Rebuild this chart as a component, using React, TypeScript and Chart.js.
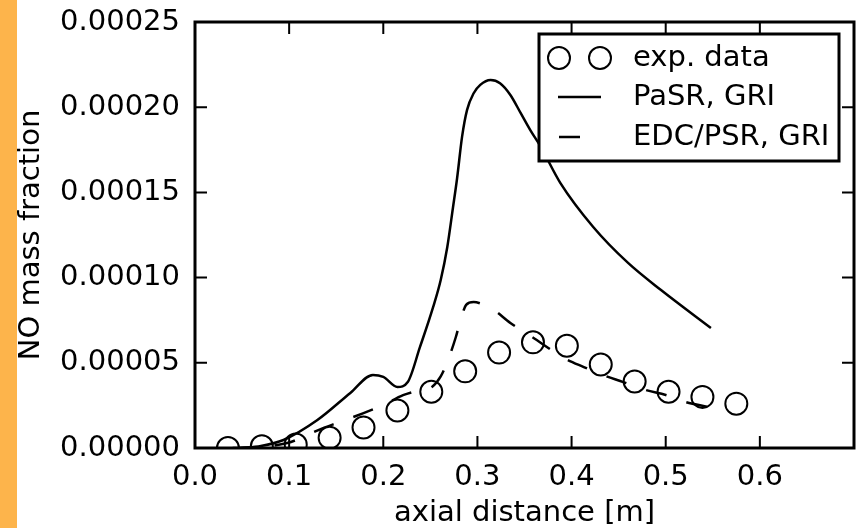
import React, { useEffect, useRef } from "react";
import { Chart, registerables } from "chart.js";

Chart.register(...registerables);

// ---- data ----
const expX = [0.035, 0.071, 0.107, 0.143, 0.179, 0.215, 0.251, 0.287, 0.323, 0.359, 0.395, 0.431, 0.467, 0.503, 0.539, 0.575];
const expY = [0.0, 0.000001, 0.000002, 0.000006, 0.000012, 0.000022, 0.000033, 0.000045, 0.000056, 0.000062, 0.00006, 0.000049, 0.000039, 0.000033, 0.00003, 0.000026];

const pasrX = [0.048, 0.07, 0.094, 0.13, 0.165, 0.189, 0.2, 0.215, 0.226, 0.239, 0.253, 0.261, 0.268, 0.274, 0.2784, 0.2837, 0.289, 0.296, 0.303, 0.314, 0.324, 0.335, 0.346, 0.356, 0.367, 0.388, 0.423, 0.46, 0.495, 0.548];
const pasrY = [0.0, 0.0000012, 0.0000047, 0.0000164, 0.0000323, 0.0000429, 0.0000417, 0.0000358, 0.0000387, 0.0000593, 0.0000828, 0.0000986, 0.000118, 0.000141, 0.0001583, 0.0001827, 0.0001984, 0.0002082, 0.0002131, 0.000216, 0.0002141, 0.0002072, 0.0001965, 0.0001867, 0.000177, 0.0001556, 0.0001297, 0.0001086, 0.0000927, 0.0000704];

const edcX = [0.04, 0.07, 0.098, 0.136, 0.154, 0.179, 0.2, 0.221, 0.239, 0.252, 0.261, 0.269, 0.277, 0.282, 0.288, 0.296, 0.305, 0.316, 0.335, 0.363, 0.39, 0.413, 0.433, 0.455, 0.479, 0.5, 0.521, 0.546];
const edcY = [0.0, 0.0000008, 0.0000029, 0.0000117, 0.0000153, 0.0000205, 0.0000252, 0.000031, 0.000034, 0.000036, 0.000042, 0.000052, 0.000065, 0.000075, 0.000084, 0.0000857, 0.0000845, 0.0000816, 0.0000734, 0.0000634, 0.0000534, 0.0000475, 0.0000429, 0.0000387, 0.000034, 0.0000311, 0.000027, 0.000024];

const legendLabels = ["exp. data", "PaSR, GRI", "EDC/PSR, GRI"];
const xTitle = "axial distance [m]";
const yTitle = "NO mass fraction";

const FONT = "DejaVu Sans";
const FS = 29;
const PLOT_RIGHT = 854;

const pts = (xs: number[], ys: number[]) => xs.map((x, i) => ({ x, y: ys[i] }));

const framePlugin = {
  id: "frame",
  afterLayout(chart: any) {
    const a = chart.chartArea;
    a.right = PLOT_RIGHT;
    a.width = a.right - a.left;
    const x = chart.scales.x;
    x.right = PLOT_RIGHT;
    x.width = x.right - x.left;
    x.configure();
  },
  afterDatasetsDraw(chart: any) {
    const { ctx, chartArea: a, scales } = chart;
    ctx.save();
    ctx.strokeStyle = "#000";
    ctx.lineWidth = 2;
    const L = 12;
    ctx.beginPath();
    scales.x.ticks.forEach((t: any) => {
      const px = scales.x.getPixelForValue(t.value);
      ctx.moveTo(px, a.bottom);
      ctx.lineTo(px, a.bottom - L);
      ctx.moveTo(px, a.top);
      ctx.lineTo(px, a.top + L);
    });
    scales.y.ticks.forEach((t: any) => {
      const py = scales.y.getPixelForValue(t.value);
      ctx.moveTo(a.left, py);
      ctx.lineTo(a.left + L, py);
      ctx.moveTo(a.right, py);
      ctx.lineTo(a.right - L, py);
    });
    ctx.stroke();
    ctx.lineWidth = 3;
    ctx.strokeRect(a.left, a.top, a.right - a.left, a.bottom - a.top);
    ctx.restore();
  },
  afterDraw(chart: any) {
    const { ctx, chartArea: a } = chart;
    const w = 300;
    const h = 127;
    const left = a.right - 15 - w;
    const top = a.top + 12;
    ctx.save();
    ctx.fillStyle = "#fff";
    ctx.fillRect(left, top, w, h);
    ctx.lineWidth = 3;
    ctx.strokeStyle = "#000";
    ctx.strokeRect(left, top, w, h);
    const rows = [top + 24, top + 63, top + 103];
    ctx.lineWidth = 2;
    [left + 20, left + 61].forEach((cx) => {
      ctx.beginPath();
      ctx.arc(cx, rows[0], 11, 0, Math.PI * 2);
      ctx.stroke();
    });
    ctx.lineWidth = 2.5;
    ctx.beginPath();
    ctx.moveTo(left + 19, rows[1]);
    ctx.lineTo(left + 62, rows[1]);
    ctx.stroke();
    ctx.setLineDash([21, 21]);
    ctx.beginPath();
    ctx.moveTo(left + 20, rows[2]);
    ctx.lineTo(left + 62, rows[2]);
    ctx.stroke();
    ctx.setLineDash([]);
    ctx.fillStyle = "#000";
    ctx.font = `${FS}px "${FONT}"`;
    ctx.textBaseline = "middle";
    ctx.textAlign = "left";
    legendLabels.forEach((t, i) => ctx.fillText(t, left + 94, rows[i]));
    ctx.restore();
  },
};

export default function App() {
  const ref = useRef<HTMLCanvasElement | null>(null);
  useEffect(() => {
    if (!ref.current) return;
    const chart = new Chart(ref.current, {
      type: "scatter",
      data: {
        datasets: [
          {
            label: legendLabels[0],
            data: pts(expX, expY),
            showLine: false,
            pointRadius: 11,
            pointBorderWidth: 2,
            pointBorderColor: "#000",
            pointBackgroundColor: "rgba(0,0,0,0)",
            clip: 0,
          } as any,
          {
            label: legendLabels[1],
            data: pts(pasrX, pasrY),
            showLine: true,
            pointRadius: 0,
            borderColor: "#000",
            borderWidth: 2.5,
            cubicInterpolationMode: "monotone",
            clip: 0,
          } as any,
          {
            label: legendLabels[2],
            data: pts(edcX, edcY),
            showLine: true,
            pointRadius: 0,
            borderColor: "#000",
            borderWidth: 2.5,
            borderDash: [21, 21],
            cubicInterpolationMode: "monotone",
            clip: 0,
          } as any,
        ],
      },
      options: {
        animation: false,
        responsive: false,
        maintainAspectRatio: false,
        layout: { padding: { left: 0, right: 2, top: 22, bottom: 0 } },
        plugins: { legend: { display: false }, tooltip: { enabled: false } },
        scales: {
          x: {
            type: "linear",
            min: 0,
            max: 0.7,
            afterFit: (s: any) => {
              s.height = 80;
              s.paddingLeft = 0;
              s.paddingRight = 0;
            },
            grid: { display: false, drawTicks: false },
            border: { display: false },
            ticks: {
              stepSize: 0.1,
              padding: 12,
              color: "#000",
              maxRotation: 0,
              autoSkip: false,
              font: { family: FONT, size: FS },
              callback: (v: any) => (Number(v) > 0.65 ? "" : Number(v).toFixed(1)),
            },
            title: {
              display: true,
              text: xTitle,
              color: "#000",
              font: { family: FONT, size: FS },
              padding: { top: 0, bottom: -3 },
            },
          },
          y: {
            type: "linear",
            min: 0,
            max: 0.00025,
            afterFit: (s: any) => {
              s.width = 195;
              s.paddingTop = 0;
              s.paddingBottom = 0;
            },
            grid: { display: false, drawTicks: false },
            border: { display: false },
            ticks: {
              stepSize: 0.00005,
              padding: 15,
              color: "#000",
              font: { family: FONT, size: FS },
              callback: (v: any) => Number(v).toFixed(5),
            },
            title: {
              display: true,
              text: yTitle,
              color: "#000",
              font: { family: FONT, size: FS },
              padding: { top: 14, bottom: 0 },
            },
          },
        },
      } as any,
      plugins: [framePlugin],
    });
    return () => chart.destroy();
  }, []);

  return (
    <div style={{ position: "fixed", left: 0, top: 0, width: 856, height: 528, background: "#fff" }}>
      <div style={{ position: "absolute", left: 0, top: 0, width: 17, height: 528, background: "#FDB44B" }} />
      <canvas ref={ref} width={856} height={528} style={{ position: "absolute", left: 0, top: 0, width: 856, height: 528 }} />
    </div>
  );
}
